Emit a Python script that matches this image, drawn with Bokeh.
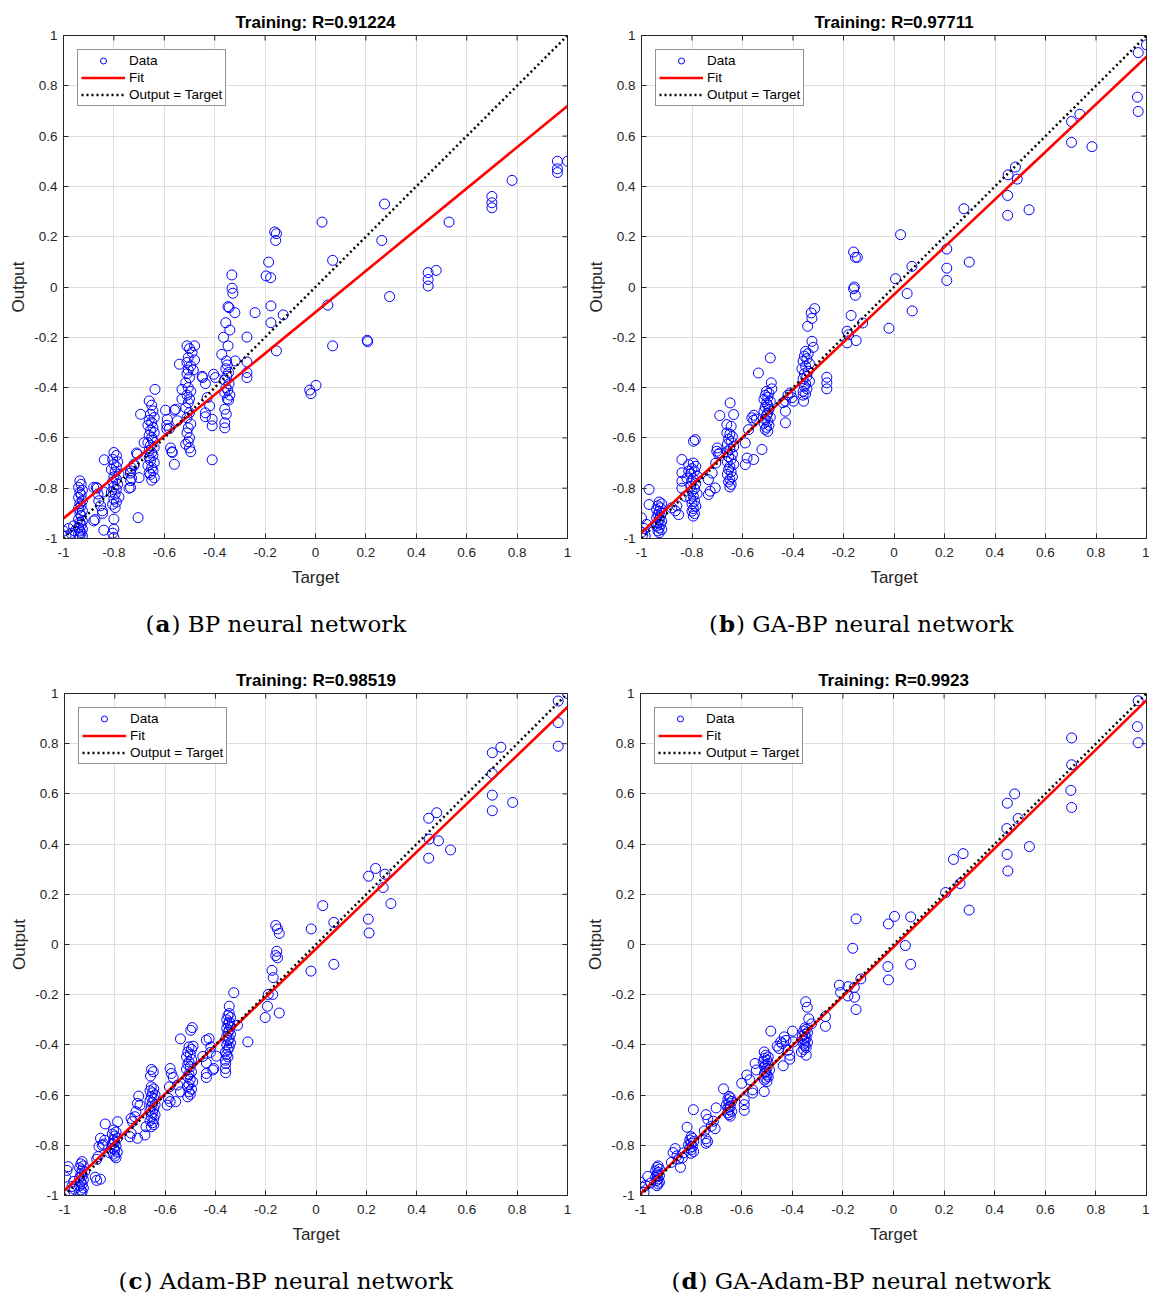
from bokeh.plotting import figure
from bokeh.models import Range1d, FixedTicker, Label, Legend, LegendItem
from bokeh.layouts import column, row
from bokeh.embed import file_html
from bokeh.resources import INLINE

# ---------------- data ----------------
AX_MIN, AX_MAX = -1.0, 1.0
TICKS = [-1, -0.8, -0.6, -0.4, -0.2, 0, 0.2, 0.4, 0.6, 0.8, 1]
TICK_LABELS = ["-1", "-0.8", "-0.6", "-0.4", "-0.2", "0", "0.2", "0.4", "0.6", "0.8", "1"]

TITLES = ["Training: R=0.91224", "Training: R=0.97711", "Training: R=0.98519", "Training: R=0.9923"]
CAP_LETTERS = ["a", "b", "c", "d"]
CAP_TEXTS = [") BP neural network", ") GA-BP neural network", ") Adam-BP neural network", ") GA-Adam-BP neural network"]
# fitted line: (slope, intercept)
FITS = [(0.82, -0.10), (0.946, -0.03), (0.963, -0.017), (0.983, -0.01)]

# ---- panel (a) BP : (target, output) pairs ----
A_UPPER = [(1.0, 0.50), (0.96, 0.50), (0.96, 0.47), (0.96, 0.455), (0.78, 0.424), (0.70, 0.36), (0.70, 0.335),
           (0.70, 0.315), (0.53, 0.258), (0.274, 0.33), (0.263, 0.185), (0.447, 0.057), (0.479, 0.066), (0.447, 0.03),
           (0.447, 0.004), (0.294, -0.038), (0.026, 0.258), (0.068, 0.106), (-0.162, 0.219), (-0.155, 0.212),
           (-0.158, 0.185), (-0.186, 0.099), (-0.196, 0.044), (-0.178, 0.037), (-0.332, 0.048), (-0.331, -0.005),
           (-0.328, -0.025), (0.049, -0.072), (0.068, -0.234), (0.205, -0.212), (0.207, -0.217), (0.002, -0.391),
           (-0.023, -0.41), (-0.018, -0.424), (-0.177, -0.075), (-0.177, -0.142), (-0.24, -0.102), (-0.128, -0.111),
           (-0.155, -0.254), (-0.272, -0.199), (-0.272, -0.298), (-0.272, -0.34), (-0.272, -0.36)]
A_C035 = [(-0.343, -0.082), (-0.347, -0.078), (-0.32, -0.102), (-0.356, -0.142), (-0.34, -0.171), (-0.365, -0.2),
          (-0.347, -0.234), (-0.372, -0.268), (-0.353, -0.294), (-0.319, -0.294), (-0.35, -0.31), (-0.356, -0.325),
          (-0.345, -0.34), (-0.352, -0.355), (-0.36, -0.37), (-0.343, -0.385), (-0.355, -0.40), (-0.348, -0.41),
          (-0.36, -0.42), (-0.34, -0.43), (-0.35, -0.445), (-0.345, -0.45), (-0.36, -0.486), (-0.354, -0.506),
          (-0.36, -0.54), (-0.36, -0.56)]
A_C042 = [(-0.404, -0.347), (-0.397, -0.36), (-0.448, -0.36), (-0.437, -0.384), (-0.42, -0.473), (-0.437, -0.5),
          (-0.437, -0.516), (-0.41, -0.526), (-0.41, -0.552), (-0.41, -0.687), (-0.43, -0.44), (-0.45, -0.355)]
A_C050 = [(-0.51, -0.234), (-0.50, -0.245), (-0.49, -0.26), (-0.505, -0.28), (-0.51, -0.30), (-0.495, -0.314),
          (-0.505, -0.33), (-0.51, -0.345), (-0.50, -0.36), (-0.515, -0.38), (-0.505, -0.40), (-0.495, -0.415),
          (-0.51, -0.43), (-0.50, -0.445), (-0.505, -0.46), (-0.515, -0.48), (-0.50, -0.50), (-0.51, -0.52),
          (-0.495, -0.545), (-0.505, -0.56), (-0.51, -0.58), (-0.50, -0.60), (-0.505, -0.615), (-0.515, -0.625),
          (-0.50, -0.64), (-0.495, -0.655), (-0.48, -0.234), (-0.48, -0.29), (-0.485, -0.33), (-0.54, -0.307),
          (-0.53, -0.407), (-0.53, -0.446)]
A_C057 = [(-0.56, -0.49), (-0.58, -0.563), (-0.575, -0.64), (-0.57, -0.655), (-0.56, -0.705), (-0.595, -0.49),
          (-0.59, -0.55), (-0.59, -0.565), (-0.588, -0.526), (-0.555, -0.486), (-0.548, -0.532), (-0.568, -0.658)]
A_C065 = [(-0.66, -0.453), (-0.65, -0.47), (-0.645, -0.493), (-0.655, -0.506), (-0.64, -0.519), (-0.66, -0.53),
          (-0.65, -0.539), (-0.665, -0.55), (-0.645, -0.559), (-0.655, -0.57), (-0.64, -0.579), (-0.66, -0.59),
          (-0.65, -0.599), (-0.645, -0.61), (-0.665, -0.619), (-0.655, -0.63), (-0.64, -0.638), (-0.66, -0.65),
          (-0.65, -0.658), (-0.645, -0.67), (-0.66, -0.678), (-0.655, -0.69), (-0.64, -0.698), (-0.665, -0.71),
          (-0.65, -0.718), (-0.645, -0.73), (-0.66, -0.738), (-0.655, -0.745), (-0.64, -0.758), (-0.65, -0.768),
          (-0.637, -0.407), (-0.694, -0.506), (-0.68, -0.619), (-0.71, -0.66), (-0.72, -0.705), (-0.73, -0.72),
          (-0.735, -0.74), (-0.73, -0.76), (-0.74, -0.80), (-0.704, -0.917)]
A_C080 = [(-0.80, -0.658), (-0.79, -0.67), (-0.805, -0.685), (-0.785, -0.695), (-0.80, -0.705), (-0.79, -0.715),
          (-0.81, -0.725), (-0.795, -0.735), (-0.78, -0.745), (-0.80, -0.755), (-0.79, -0.764), (-0.805, -0.775),
          (-0.785, -0.784), (-0.80, -0.795), (-0.79, -0.804), (-0.81, -0.815), (-0.795, -0.824), (-0.78, -0.835),
          (-0.80, -0.844), (-0.79, -0.855), (-0.805, -0.864), (-0.795, -0.877), (-0.80, -0.923), (-0.80, -0.963),
          (-0.80, -0.996), (-0.805, -0.979), (-0.838, -0.687), (-0.87, -0.797), (-0.863, -0.823), (-0.86, -0.85),
          (-0.845, -0.90), (-0.88, -0.93), (-0.875, -0.925), (-0.84, -0.967), (-0.88, -0.797), (-0.866, -0.80),
          (-0.846, -0.89), (-0.853, -0.87), (-0.84, -0.815), (-0.734, -0.731), (-0.734, -0.77), (-0.734, -0.797),
          (-0.72, -0.71), (-0.707, -0.665), (-0.70, -0.758)]
A_C093 = [(-0.935, -0.771), (-0.93, -0.785), (-0.94, -0.797), (-0.925, -0.808), (-0.935, -0.817), (-0.93, -0.827),
          (-0.94, -0.837), (-0.925, -0.85), (-0.935, -0.86), (-0.93, -0.87), (-0.94, -0.88), (-0.925, -0.89),
          (-0.935, -0.90), (-0.93, -0.91), (-0.94, -0.923), (-0.925, -0.93), (-0.935, -0.936), (-0.93, -0.945),
          (-0.94, -0.956), (-0.925, -0.963), (-0.935, -0.97), (-0.93, -0.977), (-0.94, -0.983), (-0.925, -0.99),
          (-0.935, -0.993), (-1.0, -0.97), (-0.98, -0.96), (-0.99, -0.99), (-0.96, -0.95), (-0.97, -0.98),
          (-0.955, -0.97)]

# ---- panel (b) GA-BP ----
B_UPPER = [(1.0, 0.963), (0.967, 0.932), (0.964, 0.755), (0.967, 0.698), (0.736, 0.687), (0.703, 0.658),
           (0.703, 0.575), (0.784, 0.558), (0.481, 0.477), (0.452, 0.446), (0.488, 0.429), (0.45, 0.364),
           (0.45, 0.285), (0.535, 0.307), (0.277, 0.311), (0.298, 0.099), (0.209, 0.151), (0.209, 0.075),
           (0.209, 0.026), (0.026, 0.208), (0.071, 0.082), (0.006, 0.033), (0.052, -0.026), (-0.16, 0.139),
           (-0.153, 0.118), (-0.145, 0.118), (-0.157, 0.0), (-0.16, -0.007), (-0.153, -0.033), (0.072, -0.095),
           (-0.02, -0.164), (-0.17, -0.113), (-0.186, -0.176), (-0.186, -0.222), (-0.15, -0.213), (-0.124, -0.143),
           (-0.18, -0.19)]
B_C035 = [(-0.35, -0.256), (-0.34, -0.265), (-0.355, -0.275), (-0.345, -0.285), (-0.36, -0.295), (-0.335, -0.305),
          (-0.35, -0.315), (-0.365, -0.325), (-0.34, -0.335), (-0.355, -0.345), (-0.345, -0.355), (-0.36, -0.365),
          (-0.335, -0.375), (-0.35, -0.385), (-0.355, -0.395), (-0.345, -0.405), (-0.36, -0.415), (-0.35, -0.425),
          (-0.358, -0.454), (-0.342, -0.156), (-0.328, -0.103), (-0.314, -0.086), (-0.325, -0.125), (-0.325, -0.216),
          (-0.32, -0.24), (-0.36, -0.43), (-0.266, -0.359), (-0.266, -0.381), (-0.266, -0.405)]
B_C042 = [(-0.43, -0.454), (-0.41, -0.421), (-0.404, -0.44), (-0.43, -0.494), (-0.43, -0.54), (-0.398, -0.454),
          (-0.42, -0.43), (-0.44, -0.46)]
B_C050 = [(-0.505, -0.415), (-0.495, -0.423), (-0.51, -0.431), (-0.5, -0.439), (-0.515, -0.447), (-0.49, -0.455),
          (-0.505, -0.463), (-0.5, -0.47), (-0.51, -0.478), (-0.495, -0.486), (-0.515, -0.494), (-0.5, -0.502),
          (-0.505, -0.51), (-0.49, -0.518), (-0.51, -0.526), (-0.5, -0.534), (-0.515, -0.542), (-0.495, -0.55),
          (-0.505, -0.558), (-0.51, -0.566), (-0.5, -0.574), (-0.49, -0.282), (-0.486, -0.381), (-0.484, -0.405)]
B_C057 = [(-0.589, -0.62), (-0.582, -0.68), (-0.589, -0.706), (-0.556, -0.686), (-0.523, -0.646), (-0.576, -0.567),
          (-0.563, -0.52), (-0.556, -0.53), (-0.537, -0.342), (-0.555, -0.51), (-0.545, -0.525)]
B_C065 = [(-0.65, -0.585), (-0.64, -0.595), (-0.655, -0.605), (-0.645, -0.615), (-0.66, -0.625), (-0.635, -0.635),
          (-0.65, -0.645), (-0.66, -0.655), (-0.64, -0.665), (-0.655, -0.675), (-0.645, -0.685), (-0.66, -0.695),
          (-0.635, -0.705), (-0.65, -0.715), (-0.655, -0.725), (-0.645, -0.735), (-0.66, -0.745), (-0.64, -0.755),
          (-0.65, -0.765), (-0.655, -0.775), (-0.645, -0.785), (-0.65, -0.795), (-0.649, -0.461), (-0.635, -0.507),
          (-0.662, -0.547), (-0.645, -0.554), (-0.662, -0.58), (-0.69, -0.511), (-0.7, -0.64), (-0.69, -0.66)]
B_C072 = [(-0.735, -0.766), (-0.735, -0.825), (-0.728, -0.812), (-0.708, -0.799), (-0.702, -0.653), (-0.695, -0.665),
          (-0.706, -0.7), (-0.72, -0.74)]
B_C080 = [(-0.795, -0.70), (-0.785, -0.713), (-0.8, -0.722), (-0.79, -0.732), (-0.805, -0.742), (-0.78, -0.752),
          (-0.795, -0.762), (-0.8, -0.772), (-0.785, -0.782), (-0.805, -0.792), (-0.79, -0.802), (-0.8, -0.812),
          (-0.78, -0.822), (-0.795, -0.832), (-0.805, -0.842), (-0.79, -0.852), (-0.8, -0.862), (-0.785, -0.871),
          (-0.795, -0.881), (-0.8, -0.891), (-0.79, -0.901), (-0.795, -0.911), (-0.794, -0.613), (-0.787, -0.607)]
B_C085 = [(-0.88, -0.878), (-0.866, -0.89), (-0.853, -0.905), (-0.84, -0.686), (-0.84, -0.739), (-0.84, -0.772),
          (-0.84, -0.80), (-0.827, -0.832), (-0.813, -0.706), (-0.813, -0.732), (-0.86, -0.87), (-0.82, -0.76)]
B_C093 = [(-0.93, -0.855), (-0.92, -0.862), (-0.935, -0.87), (-0.925, -0.878), (-0.94, -0.885), (-0.93, -0.892),
          (-0.92, -0.898), (-0.935, -0.905), (-0.925, -0.911), (-0.94, -0.918), (-0.93, -0.925), (-0.92, -0.931),
          (-0.935, -0.938), (-0.925, -0.944), (-0.94, -0.951), (-0.93, -0.958), (-0.92, -0.964), (-0.935, -0.97),
          (-0.93, -0.977), (-1.0, -0.918), (-0.97, -0.805), (-0.97, -0.865), (-0.99, -0.96), (-0.985, -0.99),
          (-0.98, -0.944), (-1.0, -0.975), (-0.995, -0.985)]

# ---- panel (c) Adam-BP ----
C_UPPER = [(1.0, 1.0), (0.963, 0.97), (0.963, 0.884), (0.963, 0.79), (0.735, 0.786), (0.701, 0.764), (0.701, 0.681),
           (0.701, 0.595), (0.701, 0.533), (0.782, 0.566), (0.48, 0.525), (0.448, 0.503), (0.45, 0.42),
           (0.487, 0.413), (0.448, 0.344), (0.535, 0.377), (0.237, 0.303), (0.209, 0.272), (0.274, 0.28),
           (0.267, 0.227), (0.298, 0.163), (0.208, 0.101), (0.211, 0.046), (0.027, 0.155), (0.071, 0.088),
           (-0.019, 0.062), (-0.16, 0.076), (-0.153, 0.062), (-0.146, 0.044), (-0.156, -0.027), (-0.16, -0.044),
           (-0.153, -0.053), (0.071, -0.079), (-0.02, -0.106), (-0.175, -0.103), (-0.17, -0.132), (-0.19, -0.199),
           (-0.172, -0.199), (-0.193, -0.246), (-0.202, -0.291), (-0.146, -0.273), (-0.327, -0.192),
           (-0.345, -0.246), (-0.271, -0.388), (-0.312, -0.322)]
C_C035 = [(-0.345, -0.275), (-0.35, -0.283), (-0.34, -0.291), (-0.355, -0.3), (-0.345, -0.309), (-0.35, -0.317),
          (-0.34, -0.326), (-0.355, -0.334), (-0.345, -0.342), (-0.35, -0.35), (-0.34, -0.358), (-0.355, -0.366),
          (-0.345, -0.375), (-0.35, -0.383), (-0.34, -0.392), (-0.355, -0.40), (-0.345, -0.408), (-0.35, -0.418),
          (-0.36, -0.428), (-0.355, -0.438), (-0.35, -0.448), (-0.36, -0.461), (-0.359, -0.474), (-0.36, -0.494),
          (-0.359, -0.511)]
C_C042 = [(-0.436, -0.381), (-0.425, -0.375), (-0.418, -0.408), (-0.396, -0.445), (-0.436, -0.472), (-0.436, -0.514),
          (-0.436, -0.53), (-0.406, -0.494), (-0.41, -0.50), (-0.45, -0.446), (-0.42, -0.43)]
C_C050 = [(-0.505, -0.408), (-0.495, -0.418), (-0.51, -0.428), (-0.5, -0.438), (-0.515, -0.448), (-0.495, -0.458),
          (-0.505, -0.468), (-0.51, -0.478), (-0.5, -0.487), (-0.515, -0.497), (-0.495, -0.507), (-0.505, -0.517),
          (-0.51, -0.527), (-0.5, -0.537), (-0.49, -0.547), (-0.505, -0.557), (-0.51, -0.567), (-0.495, -0.577),
          (-0.505, -0.587), (-0.5, -0.597), (-0.51, -0.607), (-0.492, -0.331), (-0.498, -0.342), (-0.539, -0.376),
          (-0.489, -0.405)]
C_C057 = [(-0.58, -0.494), (-0.575, -0.514), (-0.568, -0.53), (-0.583, -0.567), (-0.587, -0.613), (-0.58, -0.626),
          (-0.558, -0.626), (-0.539, -0.587), (-0.592, -0.64), (-0.55, -0.56)]
C_C065 = [(-0.655, -0.567), (-0.645, -0.575), (-0.66, -0.583), (-0.65, -0.591), (-0.64, -0.599), (-0.655, -0.607),
          (-0.645, -0.614), (-0.66, -0.622), (-0.65, -0.63), (-0.64, -0.638), (-0.655, -0.646), (-0.645, -0.654),
          (-0.66, -0.662), (-0.65, -0.67), (-0.64, -0.678), (-0.655, -0.686), (-0.645, -0.694), (-0.66, -0.702),
          (-0.65, -0.71), (-0.645, -0.718), (-0.655, -0.726), (-0.654, -0.498), (-0.647, -0.507), (-0.658, -0.524)]
C_C072 = [(-0.705, -0.604), (-0.71, -0.633), (-0.716, -0.666), (-0.72, -0.686), (-0.735, -0.693), (-0.73, -0.706),
          (-0.735, -0.752), (-0.74, -0.766), (-0.71, -0.772), (-0.68, -0.759), (-0.676, -0.726), (-0.70, -0.64)]
C_C080 = [(-0.805, -0.739), (-0.795, -0.747), (-0.81, -0.755), (-0.8, -0.763), (-0.79, -0.771), (-0.805, -0.779),
          (-0.8, -0.787), (-0.81, -0.795), (-0.795, -0.803), (-0.805, -0.811), (-0.8, -0.819), (-0.79, -0.827),
          (-0.805, -0.835), (-0.8, -0.843), (-0.795, -0.85), (-0.789, -0.706), (-0.838, -0.715), (-0.857, -0.772),
          (-0.863, -0.805), (-0.845, -0.795), (-0.82, -0.83), (-0.867, -0.845), (-0.872, -0.856), (-0.84, -0.78),
          (-0.85, -0.80)]
C_C093 = [(-0.93, -0.865), (-0.935, -0.874), (-0.925, -0.882), (-0.94, -0.89), (-0.93, -0.898), (-0.92, -0.906),
          (-0.935, -0.914), (-0.93, -0.922), (-0.94, -0.93), (-0.925, -0.938), (-0.935, -0.946), (-0.93, -0.954),
          (-0.94, -0.962), (-0.925, -0.97), (-0.935, -0.978), (-0.93, -0.985), (-0.935, -0.993), (-0.878, -0.927),
          (-0.857, -0.935), (-0.872, -0.94), (-1.0, -0.997), (-0.996, -0.927), (-0.985, -0.885), (-0.99, -0.9),
          (-0.97, -0.964), (-0.98, -0.984), (-0.963, -0.944), (-0.96, -0.975)]

# ---- panel (d) GA-Adam-BP ----
D_UPPER = [(0.967, 0.971), (0.964, 0.868), (0.967, 0.804), (0.704, 0.823), (0.704, 0.716), (0.701, 0.614),
           (0.704, 0.546), (0.479, 0.6), (0.45, 0.563), (0.493, 0.502), (0.448, 0.462), (0.449, 0.359),
           (0.452, 0.293), (0.537, 0.39), (0.237, 0.339), (0.275, 0.362), (0.263, 0.243), (0.206, 0.207),
           (0.299, 0.137), (0.004, 0.112), (-0.02, 0.082), (0.068, 0.11), (-0.148, 0.102), (-0.161, -0.015),
           (0.047, -0.004), (-0.022, -0.088), (-0.02, -0.141), (0.068, -0.079), (-0.214, -0.162), (-0.209, -0.191),
           (-0.18, -0.168), (-0.155, -0.171), (-0.154, -0.21), (-0.148, -0.259), (-0.129, -0.137), (-0.18, -0.205),
           (-0.269, -0.287), (-0.269, -0.326), (-0.347, -0.228), (-0.341, -0.25), (-0.335, -0.296), (-0.324, -0.316)]
D_C035 = [(-0.35, -0.332), (-0.345, -0.338), (-0.355, -0.345), (-0.34, -0.351), (-0.35, -0.358), (-0.36, -0.364),
          (-0.345, -0.371), (-0.355, -0.377), (-0.35, -0.384), (-0.34, -0.39), (-0.355, -0.397), (-0.35, -0.404),
          (-0.345, -0.411), (-0.355, -0.418), (-0.345, -0.441), (-0.364, -0.428), (-0.485, -0.345), (-0.399, -0.345)]
D_C042 = [(-0.446, -0.388), (-0.432, -0.368), (-0.425, -0.382), (-0.453, -0.414), (-0.417, -0.421), (-0.41, -0.441),
          (-0.41, -0.457), (-0.436, -0.483), (-0.44, -0.395), (-0.396, -0.388), (-0.46, -0.405)]
D_C050 = [(-0.505, -0.441), (-0.495, -0.448), (-0.51, -0.454), (-0.5, -0.461), (-0.515, -0.467), (-0.495, -0.474),
          (-0.505, -0.48), (-0.51, -0.487), (-0.5, -0.493), (-0.49, -0.50), (-0.505, -0.507), (-0.51, -0.513),
          (-0.5, -0.52), (-0.495, -0.527), (-0.505, -0.533), (-0.51, -0.54), (-0.5, -0.546), (-0.511, -0.586),
          (-0.511, -0.428), (-0.547, -0.474)]
D_C057 = [(-0.6, -0.553), (-0.58, -0.52), (-0.568, -0.539), (-0.557, -0.579), (-0.557, -0.592), (-0.59, -0.618),
          (-0.59, -0.638), (-0.59, -0.661), (-0.542, -0.5)]
D_C065 = [(-0.65, -0.605), (-0.645, -0.611), (-0.655, -0.618), (-0.64, -0.625), (-0.65, -0.632), (-0.66, -0.638),
          (-0.645, -0.645), (-0.655, -0.651), (-0.65, -0.658), (-0.64, -0.665), (-0.655, -0.671), (-0.65, -0.678),
          (-0.645, -0.684), (-0.672, -0.575)]
D_C072 = [(-0.741, -0.678), (-0.734, -0.697), (-0.712, -0.704), (-0.72, -0.724), (-0.705, -0.734), (-0.701, -0.651),
          (-0.748, -0.743), (-0.741, -0.774), (-0.741, -0.792), (-0.735, -0.785), (-0.791, -0.658)]
D_C080 = [(-0.8, -0.766), (-0.795, -0.772), (-0.805, -0.779), (-0.79, -0.785), (-0.8, -0.792), (-0.81, -0.798),
          (-0.795, -0.805), (-0.805, -0.811), (-0.8, -0.818), (-0.79, -0.825), (-0.8, -0.832), (-0.816, -0.728),
          (-0.863, -0.813), (-0.856, -0.842), (-0.842, -0.888), (-0.878, -0.868), (-0.871, -0.829), (-0.835, -0.85),
          (-0.85, -0.855), (-0.83, -0.83)]
D_C093 = [(-0.93, -0.882), (-0.935, -0.888), (-0.925, -0.895), (-0.94, -0.901), (-0.93, -0.908), (-0.935, -0.914),
          (-0.925, -0.921), (-0.94, -0.927), (-0.93, -0.934), (-0.935, -0.94), (-0.925, -0.947), (-0.93, -0.954),
          (-0.935, -0.961), (-1.0, -0.947), (-0.993, -0.967), (-0.98, -0.96), (-0.986, -0.987), (-0.971, -0.924),
          (-0.96, -0.95)]

PANEL_DATA = [
    A_UPPER + A_C035 + A_C042 + A_C050 + A_C057 + A_C065 + A_C080 + A_C093,
    B_UPPER + B_C035 + B_C042 + B_C050 + B_C057 + B_C065 + B_C072 + B_C080 + B_C085 + B_C093,
    C_UPPER + C_C035 + C_C042 + C_C050 + C_C057 + C_C065 + C_C072 + C_C080 + C_C093,
    D_UPPER + D_C035 + D_C042 + D_C050 + D_C057 + D_C065 + D_C072 + D_C080 + D_C093,
]

# ---------------- layout / style ----------------
# (width, height, frame_left, frame_right, frame_top, frame_bottom)
GEOM = [
    (575, 600, 63, 567, 35, 538),
    (574, 600, 66, 571, 34, 538),
    (575, 592, 64, 567, 38, 540),
    (574, 592, 65, 571, 36, 541),
]
# caption strips: (width, height, letter centre x, half letter width, text centre y from bottom)
CAP_GEOM = [
    (575, 55, 162.5, 7.5, 32),
    (574, 55, 151.5, 8.0, 32),
    (575, 48, 135.0, 7.0, 15),
    (574, 48, 114.0, 8.0, 15),
]
SANS = "Liberation Sans"
SERIF = "DejaVu Serif"
AXC = "#262626"
TICK_LEN = 0.02


def make_panel(i):
    w, h, fl, fr, ft, fb = GEOM[i]
    p = figure(width=w, height=h, x_range=Range1d(AX_MIN, AX_MAX), y_range=Range1d(AX_MIN, AX_MAX),
               output_backend="svg", toolbar_location=None,
               min_border_left=fl, min_border_right=w - fr, min_border_top=ft, min_border_bottom=h - fb)
    p.title.text = TITLES[i]
    p.title.align = "center"
    p.title.text_font = SANS
    p.title.text_font_size = "17px"
    p.title.text_font_style = "bold"
    p.title.text_color = "black"
    p.title.standoff = 8

    overrides = {t: lab for t, lab in zip(TICKS, TICK_LABELS)}
    for ax in (p.xaxis[0], p.yaxis[0]):
        ax.ticker = FixedTicker(ticks=TICKS)
        ax.major_label_overrides = overrides
        ax.major_label_text_font = SANS
        ax.major_label_text_font_size = "13.5px"
        ax.major_label_text_color = AXC
        ax.major_tick_in = 5
        ax.major_tick_out = 0
        ax.minor_tick_line_color = None
        ax.major_tick_line_color = AXC
        ax.axis_line_color = AXC
        ax.axis_label_text_font = SANS
        ax.axis_label_text_font_size = "17px"
        ax.axis_label_text_font_style = "normal"
        ax.axis_label_text_color = AXC
    p.xaxis.axis_label = "Target"
    p.yaxis.axis_label = "Output"
    p.xaxis.major_label_standoff = 9
    p.xaxis.axis_label_standoff = 8
    p.yaxis.major_label_standoff = 6
    p.yaxis.axis_label_standoff = 3

    p.grid.grid_line_color = "#dedede"
    p.grid.grid_line_width = 1
    p.outline_line_color = AXC
    p.background_fill_color = "white"
    p.border_fill_color = "white"

    # inward ticks on the top and right edges of the box
    p.segment(x0=TICKS, y0=[AX_MAX] * len(TICKS), x1=TICKS, y1=[AX_MAX - TICK_LEN] * len(TICKS),
              line_color=AXC, line_width=1)
    p.segment(x0=[AX_MAX] * len(TICKS), y0=TICKS, x1=[AX_MAX - TICK_LEN] * len(TICKS), y1=TICKS,
              line_color=AXC, line_width=1)

    pts = PANEL_DATA[i]
    xs = [t for t, o in pts]
    ys = [o for t, o in pts]
    sc = p.scatter(xs, ys, marker="circle", size=10, line_color="#0000ff", fill_color=None, line_width=1)

    slope, icpt = FITS[i]
    fx = [AX_MIN, AX_MAX]
    fy = [slope * v + icpt for v in fx]
    fit = p.line(fx, fy, line_color="#ff0000", line_width=2.6)
    diag = p.line([AX_MIN, AX_MAX], [AX_MIN, AX_MAX], line_color="black", line_width=2.5, line_dash="2 3")

    leg = Legend(items=[LegendItem(label="Data", renderers=[sc]),
                        LegendItem(label="Fit", renderers=[fit]),
                        LegendItem(label="Output = Target", renderers=[diag])],
                 location="top_left", margin=14, padding=3, spacing=2,
                 label_height=15, glyph_height=15, glyph_width=44, label_standoff=4,
                 label_text_font=SANS, label_text_font_size="13.5px", label_text_color="black",
                 border_line_color=AXC, border_line_width=1, background_fill_color="white",
                 background_fill_alpha=1.0)
    p.add_layout(leg)
    return p


def make_caption(i):
    w, h, cx, half, cy = CAP_GEOM[i]
    c = figure(width=w, height=h, x_range=Range1d(0, w), y_range=Range1d(0, h),
               output_backend="svg", toolbar_location=None, x_axis_type=None, y_axis_type=None,
               min_border=0, outline_line_color=None)
    c.grid.visible = False
    c.background_fill_color = "white"
    c.border_fill_color = "white"
    common = dict(y=cy, text_font=SERIF, text_font_size="23px", text_baseline="middle", text_color="black")
    c.add_layout(Label(x=cx - half - 1, text="(", text_align="right", **common))
    c.add_layout(Label(x=cx, text=CAP_LETTERS[i], text_align="center", text_font_style="bold", **common))
    c.add_layout(Label(x=cx + half + 1, text=CAP_TEXTS[i], text_align="left", **common))
    return c


panels = [make_panel(i) for i in range(4)]
caps = [make_caption(i) for i in range(4)]
layout = column(row(panels[0], panels[1]), row(caps[0], caps[1]),
                row(panels[2], panels[3]), row(caps[2], caps[3]))

open("out.html", "w").write(file_html(layout, INLINE))
